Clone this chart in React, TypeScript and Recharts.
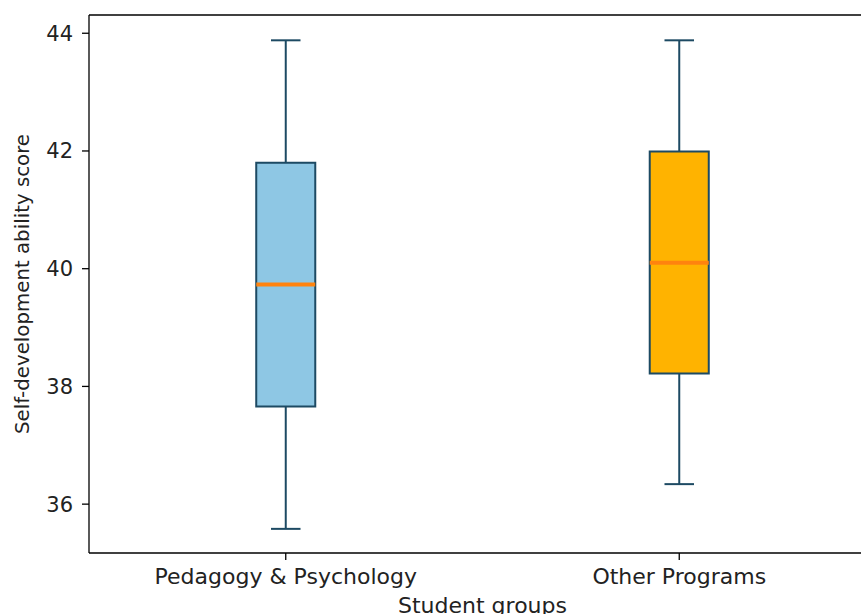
import { ComposedChart, XAxis, YAxis, ReferenceArea, ReferenceLine, Scatter, Label } from 'recharts'

// box plot stats
const groups = ['Pedagogy & Psychology', 'Other Programs']
const positions = [1, 2]
const whiskerLow = [35.58, 36.34]
const q1 = [37.66, 38.22]
const median = [39.73, 40.1]
const q3 = [41.8, 41.99]
const whiskerHigh = [43.88, 43.88]
const boxColors = ['#8ec7e4', '#ffb300']
const yTicks = [36, 38, 40, 42, 44]
const yDomain = [35.17, 44.31]

const edge = '#1d4a63'
const medianColor = '#ff830e'
const textColor = '#222'
const font = 'DejaVu Sans'
const boxHalf = 0.075
const capHalf = 0.0375

const rows = positions.map((p, i) => ({ pos: p, median: median[i] }))

export default function App() {
  return (
    <div style={{ position: 'fixed', top: 0, left: 0, width: 861, height: 614, overflow: 'hidden', background: '#fff' }}>
      <ComposedChart width={900} height={614} data={rows} margin={{ top: 15, right: 24, bottom: 0, left: 0 }}>
        <XAxis
          dataKey="pos"
          type="number"
          domain={[0.5, 2.5]}
          ticks={positions}
          tickFormatter={(v: number) => groups[positions.indexOf(v)] ?? ''}
          height={61}
          tickSize={7}
          tickMargin={8}
          stroke="#000"
          strokeWidth={1.3}
          tick={{ fill: textColor, fontSize: 22, fontFamily: font }}
          allowDataOverflow
        >
          <Label value="Student groups" position="insideBottom" offset={1} style={{ fill: textColor, fontSize: 22, fontFamily: font }} />
        </XAxis>
        <YAxis
          type="number"
          domain={yDomain}
          ticks={yTicks}
          width={89}
          tickSize={7}
          tickMargin={9}
          stroke="#000"
          strokeWidth={1.3}
          tick={{ fill: textColor, fontSize: 21, fontFamily: font }}
          allowDataOverflow
        >
          <Label value="Self-development ability score" angle={-90} position="insideLeft" offset={22} style={{ textAnchor: 'middle', fill: textColor, fontSize: 19.8, fontFamily: font }} />
        </YAxis>
        <ReferenceLine y={yDomain[1]} stroke="#000" strokeWidth={1.3} ifOverflow="visible" />
        {positions.map((p, i) => (
          <ReferenceLine key={`wl${i}`} segment={[{ x: p, y: whiskerLow[i] }, { x: p, y: q1[i] }]} stroke={edge} strokeWidth={2} />
        ))}
        {positions.map((p, i) => (
          <ReferenceLine key={`wh${i}`} segment={[{ x: p, y: q3[i] }, { x: p, y: whiskerHigh[i] }]} stroke={edge} strokeWidth={2} />
        ))}
        {positions.map((p, i) => (
          <ReferenceLine key={`cl${i}`} segment={[{ x: p - capHalf, y: whiskerLow[i] }, { x: p + capHalf, y: whiskerLow[i] }]} stroke={edge} strokeWidth={2} />
        ))}
        {positions.map((p, i) => (
          <ReferenceLine key={`ch${i}`} segment={[{ x: p - capHalf, y: whiskerHigh[i] }, { x: p + capHalf, y: whiskerHigh[i] }]} stroke={edge} strokeWidth={2} />
        ))}
        {positions.map((p, i) => (
          <ReferenceArea key={`b${i}`} x1={p - boxHalf} x2={p + boxHalf} y1={q1[i]} y2={q3[i]} fill={boxColors[i]} fillOpacity={1} stroke={edge} strokeWidth={2} />
        ))}
        {positions.map((p, i) => (
          <ReferenceLine key={`m${i}`} segment={[{ x: p - boxHalf, y: median[i] }, { x: p + boxHalf, y: median[i] }]} stroke={medianColor} strokeWidth={4} />
        ))}
        <Scatter dataKey="median" fill="none" shape={() => <g />} isAnimationActive={false} />
      </ComposedChart>
    </div>
  )
}
